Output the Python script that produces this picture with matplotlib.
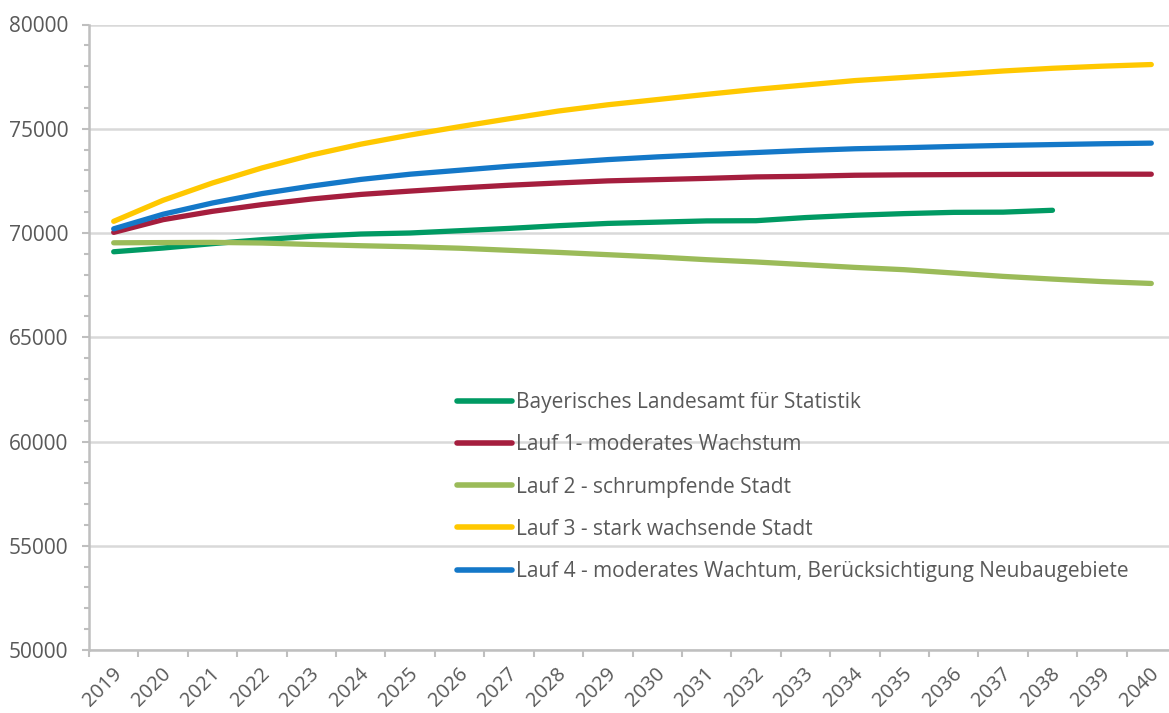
import matplotlib
matplotlib.use("Agg")
import matplotlib.pyplot as plt
from matplotlib.ticker import MultipleLocator, FixedLocator
from matplotlib.transforms import ScaledTranslation

years = [str(y) for y in range(2019, 2041)]

bayern = [69100, 69280, 69490, 69680, 69840, 69950, 70000, 70110, 70220, 70350,
          70460, 70520, 70580, 70590, 70740, 70850, 70930, 70990, 71000, 71090]
lauf1 = [70030, 70640, 71040, 71360, 71630, 71850, 72010, 72160, 72290, 72400,
         72500, 72560, 72620, 72690, 72720, 72770, 72790, 72800, 72810, 72815,
         72820, 72820]
lauf2 = [69530, 69540, 69550, 69520, 69450, 69390, 69340, 69270, 69170, 69070,
         68960, 68850, 68720, 68610, 68480, 68350, 68240, 68080, 67920, 67790,
         67670, 67580]
lauf3 = [70560, 71570, 72400, 73120, 73740, 74260, 74700, 75100, 75480, 75850,
         76150, 76400, 76650, 76890, 77100, 77310, 77460, 77610, 77770, 77900,
         78000, 78080]
lauf4 = [70200, 70900, 71440, 71890, 72250, 72570, 72820, 73010, 73200, 73360,
         73520, 73650, 73760, 73860, 73960, 74040, 74090, 74150, 74200, 74240,
         74280, 74310]

labels = ["Bayerisches Landesamt für Statistik",
          "Lauf 1- moderates Wachstum",
          "Lauf 2 - schrumpfende Stadt",
          "Lauf 3 - stark wachsende Stadt",
          "Lauf 4 - moderates Wachtum, Berücksichtigung Neubaugebiete"]
colors = ["#009A63", "#A51E3E", "#9BBB59", "#FFC800", "#1478C8"]

plt.rcParams['font.family'] = ['Open Sans', 'DejaVu Sans']
text_color = "#595959"
grid_color = "#D9D9D9"
axis_color = "#BFBFBF"

fig = plt.figure(figsize=(11.69, 7.13), dpi=100)
W, H = 1169, 713
left, right, top, bottom = 89, 1176, 24.5, 650
ax = fig.add_axes([left / W, 1 - bottom / H, (right - left) / W, (bottom - top) / H])

series = [bayern, lauf1, lauf2, lauf3, lauf4]
for vals, lab, col in zip(series, labels, colors):
    x = list(range(len(vals)))
    ax.plot(x, vals, color=col, lw=3.8, label=lab, solid_capstyle='round',
            solid_joinstyle='round', zorder=3)

ax.set_xlim(-0.5, len(years) - 0.5)
ax.set_ylim(50000, 80000)

ax.yaxis.set_major_locator(MultipleLocator(5000))
ax.yaxis.set_minor_locator(MultipleLocator(1000))
ax.grid(axis='y', which='major', color=grid_color, lw=1.8, zorder=0)
ax.set_axisbelow(True)

ax.xaxis.set_major_locator(FixedLocator([i - 0.5 for i in range(len(years) + 1)]))
ax.xaxis.set_minor_locator(FixedLocator(list(range(len(years)))))
ax.set_xticklabels([], minor=False)
ax.set_xticklabels(years, minor=True, rotation=45, ha='right', va='center',
                   rotation_mode='anchor', fontsize=14.5, color=text_color)
ax.tick_params(axis='x', which='major', length=5, width=1.5, color=axis_color)
ax.tick_params(axis='x', which='minor', length=0, pad=15)
shift = ScaledTranslation(5 / 100, 0, fig.dpi_scale_trans)
for lbl in ax.get_xticklabels(minor=True):
    lbl.set_transform(lbl.get_transform() + shift)

ax.tick_params(axis='y', which='major', length=5, width=1.5, color=axis_color,
               labelsize=15, labelcolor=text_color, pad=10)
ax.tick_params(axis='y', which='minor', length=3.5, width=1.5, color=axis_color)

for s in ['top', 'right']:
    ax.spines[s].set_visible(False)
for s in ['left', 'bottom']:
    ax.spines[s].set_color(axis_color)
    ax.spines[s].set_linewidth(1.8)

leg = ax.legend(loc='upper left', bbox_to_anchor=(457 / W, 1 - 392 / H),
                bbox_transform=fig.transFigure, frameon=False, fontsize=15,
                handlelength=2.65, handletextpad=0.2, labelspacing=1.02,
                borderaxespad=0, borderpad=0)
for t in leg.get_texts():
    t.set_color(text_color)
for h in leg.get_lines():
    h.set_linewidth(4.0)

fig.savefig("out.png", dpi=100)
